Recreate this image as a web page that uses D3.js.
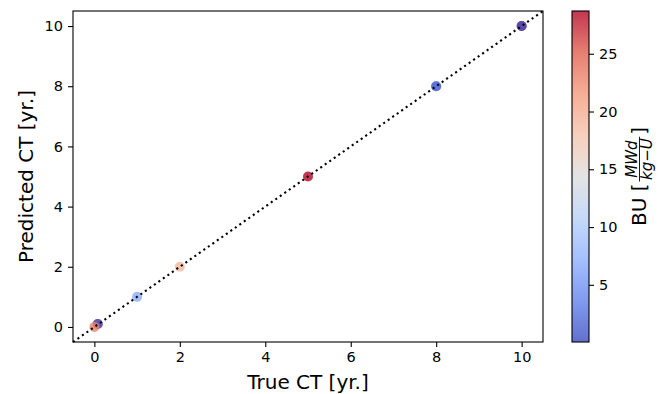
<!DOCTYPE html>
<html>
<head>
<meta charset="utf-8">
<script src="https://cdn.jsdelivr.net/npm/d3@7"></script>
<style>
html,body{margin:0;padding:0;background:#fff;}
svg{display:block;font-family:"DejaVu Sans",sans-serif;}
</style>
</head>
<body>
<svg id="chart" width="664" height="394"></svg>
<script>
// ---- data ----
const trueCT = [0.08, 0.08, 0, 1, 2, 5, 8, 8, 10, 10];
const predCT = [0.1, 0.1, 0, 1, 2, 5, 8, 8, 10, 10];
const burnup = [25, 0.3, 23, 7, 19, 28.7, 4, 2, 28, 0.05];
const xTicks = [0, 2, 4, 6, 8, 10];
const yTicks = [0, 2, 4, 6, 8, 10];
const cbTicks = [5, 10, 15, 20, 25];
const buRange = [0.05, 28.7];
const axisRange = [-0.5, 10.5];

// coolwarm anchors
const coolwarm = ["#3b4cc0","#6282ea","#8db0fe","#b8d0f9","#dddddd","#f5c4ad","#f49a7b","#de604d","#b40426"];

const svg = d3.select("#chart");
const M = {left:73, right:543, top:11, bottom:342};

const x = d3.scaleLinear().domain(axisRange).range([M.left, M.right]);
const y = d3.scaleLinear().domain(axisRange).range([M.bottom, M.top]);
const cDomain = coolwarm.map((_,i)=> buRange[0] + (buRange[1]-buRange[0])*i/(coolwarm.length-1));
const color = d3.scaleLinear().domain(cDomain).range(coolwarm).interpolate(d3.interpolateRgb);

// points
svg.append("g").selectAll("circle").data(trueCT).join("circle")
  .attr("cx",(d,i)=>x(d)).attr("cy",(d,i)=>y(predCT[i]))
  .attr("r",5).attr("fill",(d,i)=>color(burnup[i])).attr("fill-opacity",0.8);

// identity dotted line
svg.append("line")
  .attr("x1",x(axisRange[0])).attr("y1",y(axisRange[0]))
  .attr("x2",x(axisRange[1])).attr("y2",y(axisRange[1]))
  .attr("stroke","#000").attr("stroke-width",2.1).attr("stroke-dasharray","2.1,3.4");

// axes
const fs = 14.5;
const xAxis = svg.append("g").attr("transform",`translate(0,${M.bottom})`)
  .call(d3.axisBottom(x).tickValues(xTicks).tickSize(5).tickPadding(5).tickFormat(d3.format("d")));
const yAxis = svg.append("g").attr("transform",`translate(${M.left},0)`)
  .call(d3.axisLeft(y).tickValues(yTicks).tickSize(5).tickPadding(5).tickFormat(d3.format("d")));
[xAxis,yAxis].forEach(a=>{
  a.select(".domain").remove();
  a.selectAll("text").attr("font-size",fs).attr("font-family","DejaVu Sans").attr("fill","#000");
  a.selectAll("line").attr("stroke","#000").attr("stroke-width",1.1);
});

// frame
svg.append("rect").attr("x",M.left).attr("y",M.top)
  .attr("width",M.right-M.left).attr("height",M.bottom-M.top)
  .attr("fill","none").attr("stroke","#000").attr("stroke-width",1.1);

// axis labels
svg.append("text").attr("x",(M.left+M.right)/2).attr("y",389)
  .attr("text-anchor","middle").attr("font-size",20).text("True CT [yr.]");
svg.append("text").attr("transform",`translate(33,${(M.top+M.bottom)/2}) rotate(-90)`)
  .attr("text-anchor","middle").attr("font-size",20).text("Predicted CT [yr.]");

// colorbar
const CB = {left:572, right:589, top:11, bottom:342};
const cy = d3.scaleLinear().domain(buRange).range([CB.bottom, CB.top]);
const defs = svg.append("defs");
const grad = defs.append("linearGradient").attr("id","cbgrad")
  .attr("x1",0).attr("y1",1).attr("x2",0).attr("y2",0);
coolwarm.forEach((c,i)=>grad.append("stop").attr("offset",i/(coolwarm.length-1)).attr("stop-color",c));
svg.append("rect").attr("x",CB.left).attr("y",CB.top)
  .attr("width",CB.right-CB.left).attr("height",CB.bottom-CB.top)
  .attr("fill","url(#cbgrad)").attr("fill-opacity",0.8);
svg.append("rect").attr("x",CB.left).attr("y",CB.top)
  .attr("width",CB.right-CB.left).attr("height",CB.bottom-CB.top)
  .attr("fill","none").attr("stroke","#000").attr("stroke-width",1.1);
const cAxis = svg.append("g").attr("transform",`translate(${CB.right},0)`)
  .call(d3.axisRight(cy).tickValues(cbTicks).tickSize(5).tickPadding(5).tickFormat(d3.format("d")));
cAxis.select(".domain").remove();
cAxis.selectAll("text").attr("font-size",fs).attr("font-family","DejaVu Sans").attr("fill","#000");
cAxis.selectAll("line").attr("stroke","#000").attr("stroke-width",1.1);

// colorbar label: BU [ MWd / kg−U ]
const lg = svg.append("g").attr("transform",`translate(646,${(CB.top+CB.bottom)/2}) rotate(-90)`);
const t1 = lg.append("text").attr("font-size",20).text("BU [");
const w1 = t1.node().getComputedTextLength();
const num = lg.append("text").attr("font-size",15).attr("font-style","italic").attr("text-anchor","middle").text("MWd");
const den = lg.append("text").attr("font-size",15).attr("font-style","italic").attr("text-anchor","middle").text("kg\u2212U");
const fw = Math.max(num.node().getComputedTextLength(), den.node().getComputedTextLength()) + 3;
const t3 = lg.append("text").attr("font-size",20).text("]");
const w3 = t3.node().getComputedTextLength();
const gap = 2;
const total = w1 + gap + fw + gap + w3;
const x0 = -total/2;
t1.attr("x",x0).attr("y",0);
const fx = x0 + w1 + gap;
const axisY = -6.5;
lg.append("line").attr("x1",fx).attr("x2",fx+fw).attr("y1",axisY).attr("y2",axisY)
  .attr("stroke","#000").attr("stroke-width",0.9);
num.attr("x",fx+fw/2).attr("y",axisY-2.5);
den.attr("x",fx+fw/2).attr("y",axisY+12.5);
t3.attr("x",fx+fw+gap).attr("y",0);
</script>
</body>
</html>
